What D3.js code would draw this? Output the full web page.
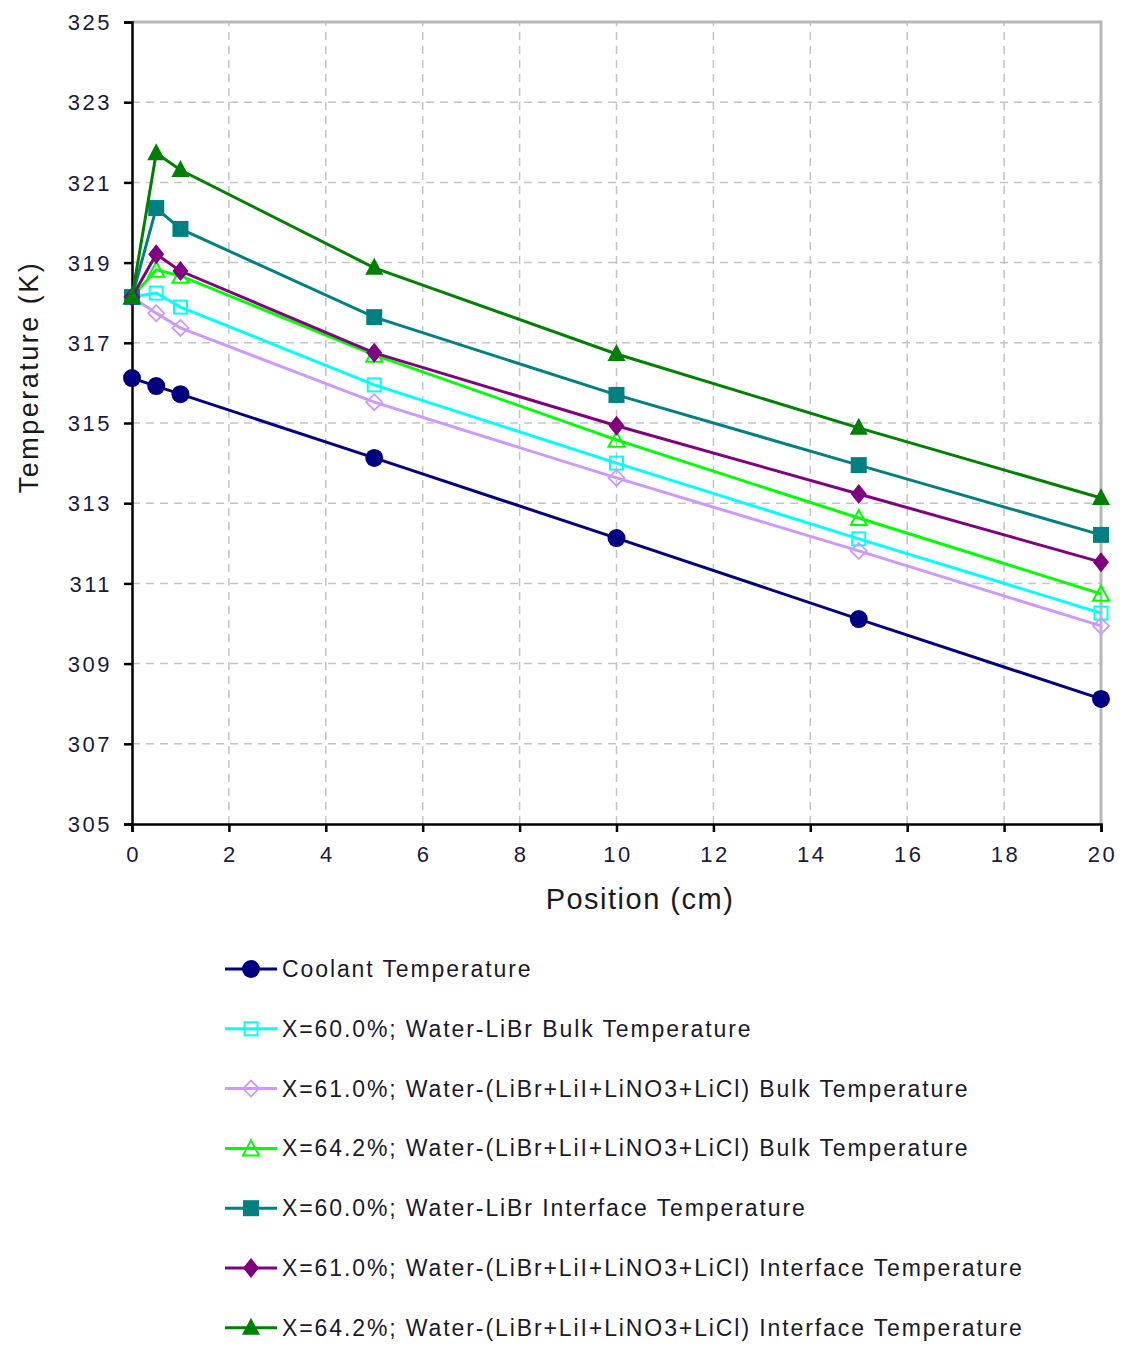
<!DOCTYPE html>
<html>
<head>
<meta charset="utf-8">
<script src="https://cdn.jsdelivr.net/npm/d3@7"></script>
<style>
  body { margin: 0; background: #fff; }
  text { font-family: "Liberation Sans", Arial, sans-serif; }
</style>
</head>
<body>
<div id="chart"></div>
<script>
// Dados
var positions = [0, 0.5, 1, 5, 10, 15, 20];
var coolant   = [316.12, 315.92, 315.72, 314.13, 312.13, 310.11, 308.12];
var bulk600   = [318.14, 318.24, 317.89, 315.95, 314.00, 312.11, 310.26];
var bulk610   = [318.14, 317.74, 317.37, 315.52, 313.63, 311.81, 309.94];
var bulk642   = [318.14, 318.82, 318.67, 316.70, 314.58, 312.63, 310.74];
var intf600   = [318.14, 320.36, 319.84, 317.64, 315.70, 313.95, 312.21];
var intf610   = [318.14, 319.21, 318.79, 316.75, 314.93, 313.23, 311.53];
var intf642   = [318.14, 321.73, 321.31, 318.87, 316.72, 314.88, 313.13];

var xTicks = [0, 2, 4, 6, 8, 10, 12, 14, 16, 18, 20];
var yTicks = [305, 307, 309, 311, 313, 315, 317, 319, 321, 323, 325];

var seriesNames = [
    "Coolant Temperature",
    "X=60.0%; Water-LiBr Bulk Temperature",
    "X=61.0%; Water-(LiBr+LiI+LiNO3+LiCl) Bulk Temperature",
    "X=64.2%; Water-(LiBr+LiI+LiNO3+LiCl) Bulk Temperature",
    "X=60.0%; Water-LiBr Interface Temperature",
    "X=61.0%; Water-(LiBr+LiI+LiNO3+LiCl) Interface Temperature",
    "X=64.2%; Water-(LiBr+LiI+LiNO3+LiCl) Interface Temperature"
];
var seriesValues = [coolant, bulk600, bulk610, bulk642, intf600, intf610, intf642];
var seriesColors = ["#000080", "#00ffff", "#cc99ff", "#00ff00", "#008080", "#800080", "#008000"];
var seriesMarkers = ["circle", "squareOpen", "diamondOpen", "triangleOpen", "square", "diamond", "triangle"];

var width = 1123, height = 1347;
var margin = { left: 132, top: 22 };
var plotW = 1101 - 132, plotH = 824 - 22;

var svg = d3.select("#chart").append("svg")
    .attr("width", width)
    .attr("height", height);

var x = d3.scaleLinear().domain([0, 20]).range([margin.left, margin.left + plotW]);
var y = d3.scaleLinear().domain([305, 325]).range([margin.top + plotH, margin.top]);

// Grade tracejada
svg.append("g").selectAll("line")
    .data(xTicks.slice(1, -1))
    .join("line")
    .attr("x1", d => x(d)).attr("x2", d => x(d))
    .attr("y1", y(305)).attr("y2", y(325))
    .attr("stroke", "#c4c4c4").attr("stroke-width", 1.5)
    .attr("stroke-dasharray", "8,6");

svg.append("g").selectAll("line")
    .data(yTicks.slice(1, -1))
    .join("line")
    .attr("x1", x(0)).attr("x2", x(20))
    .attr("y1", d => y(d)).attr("y2", d => y(d))
    .attr("stroke", "#c4c4c4").attr("stroke-width", 1.5)
    .attr("stroke-dasharray", "8,6");

// Borda superior e direita
svg.append("path")
    .attr("d", `M${x(0)},${y(325)}H${x(20)}V${y(305)}`)
    .attr("fill", "none")
    .attr("stroke", "#b8b8b8")
    .attr("stroke-width", 3);

// Eixos
var xAxis = svg.append("g")
    .attr("transform", `translate(0,${y(305)})`)
    .call(d3.axisBottom(x).tickValues(xTicks).tickSize(8).tickPadding(14).tickFormat(d3.format("d")));
var yAxis = svg.append("g")
    .attr("transform", `translate(${x(0)},0)`)
    .call(d3.axisLeft(y).tickValues(yTicks).tickSize(8).tickPadding(12).tickFormat(d3.format("d")));

[xAxis, yAxis].forEach(function (ax) {
    ax.select(".domain").attr("stroke", "#000").attr("stroke-width", 2.5);
    ax.selectAll(".tick line").attr("stroke", "#000").attr("stroke-width", 2.5);
    ax.selectAll(".tick text")
        .attr("fill", "#1a1a40")
        .style("font-size", "22px")
        .style("letter-spacing", "2.5px")
        .style("font-family", "'Liberation Sans', Arial, sans-serif");
});
yAxis.selectAll(".tick text").attr("dy", "0.35em");
xAxis.selectAll(".tick text").attr("dx", "1px");

// Títulos dos eixos
svg.append("text")
    .attr("x", 640)
    .attr("y", 909)
    .attr("text-anchor", "middle")
    .style("font-size", "29px")
    .style("letter-spacing", "1.5px")
    .attr("fill", "#1a1a1a")
    .text("Position (cm)");

svg.append("text")
    .attr("transform", "translate(38, 377) rotate(-90)")
    .attr("text-anchor", "middle")
    .style("font-size", "27px")
    .style("letter-spacing", "2.5px")
    .attr("fill", "#1a1a1a")
    .text("Temperature (K)");

// Marcadores
function drawMarker(g, type, color) {
    switch (type) {
        case "circle":
            g.append("circle").attr("r", 9).attr("fill", color);
            break;
        case "square":
            g.append("rect").attr("x", -8).attr("y", -8).attr("width", 16).attr("height", 16).attr("fill", color);
            break;
        case "squareOpen":
            g.append("rect").attr("x", -6.5).attr("y", -6.5).attr("width", 13).attr("height", 13)
                .attr("fill", "none").attr("stroke", color).attr("stroke-width", 2);
            break;
        case "diamond":
            g.append("path").attr("d", "M0,-10L8,0L0,10L-8,0Z").attr("fill", color);
            break;
        case "diamondOpen":
            g.append("path").attr("d", "M0,-8L8,0L0,8L-8,0Z")
                .attr("fill", "none").attr("stroke", color).attr("stroke-width", 1.8);
            break;
        case "triangle":
            g.append("path").attr("d", "M0,-10L9,7L-9,7Z").attr("fill", color);
            break;
        case "triangleOpen":
            g.append("path").attr("d", "M0,-8L8,7L-8,7Z")
                .attr("fill", "none").attr("stroke", color).attr("stroke-width", 2);
            break;
    }
}

var line = d3.line()
    .x((d, i) => x(positions[i]))
    .y(d => y(d));

seriesValues.forEach(function (vals, k) {
    var g = svg.append("g");
    g.append("path")
        .datum(vals)
        .attr("d", line)
        .attr("fill", "none")
        .attr("stroke", seriesColors[k])
        .attr("stroke-width", 3);
    g.selectAll("g.pt")
        .data(vals)
        .join("g")
        .attr("class", "pt")
        .attr("transform", (d, i) => `translate(${x(positions[i])},${y(d)})`)
        .each(function () { drawMarker(d3.select(this), seriesMarkers[k], seriesColors[k]); });
});

// Legenda
var legend = svg.append("g").attr("transform", "translate(225, 969)");
seriesNames.forEach(function (name, k) {
    var row = legend.append("g").attr("transform", `translate(0, ${k * 59.8})`);
    row.append("line")
        .attr("x1", 0).attr("x2", 52)
        .attr("y1", 0).attr("y2", 0)
        .attr("stroke", seriesColors[k])
        .attr("stroke-width", 3);
    var m = row.append("g").attr("transform", "translate(26,0)");
    drawMarker(m, seriesMarkers[k], seriesColors[k]);
    row.append("text")
        .attr("x", 57)
        .attr("y", 0)
        .attr("dy", "0.35em")
        .style("font-size", "23px")
        .style("letter-spacing", "1.9px")
        .attr("fill", "#1a1a2a")
        .text(name);
});
</script>
</body>
</html>
